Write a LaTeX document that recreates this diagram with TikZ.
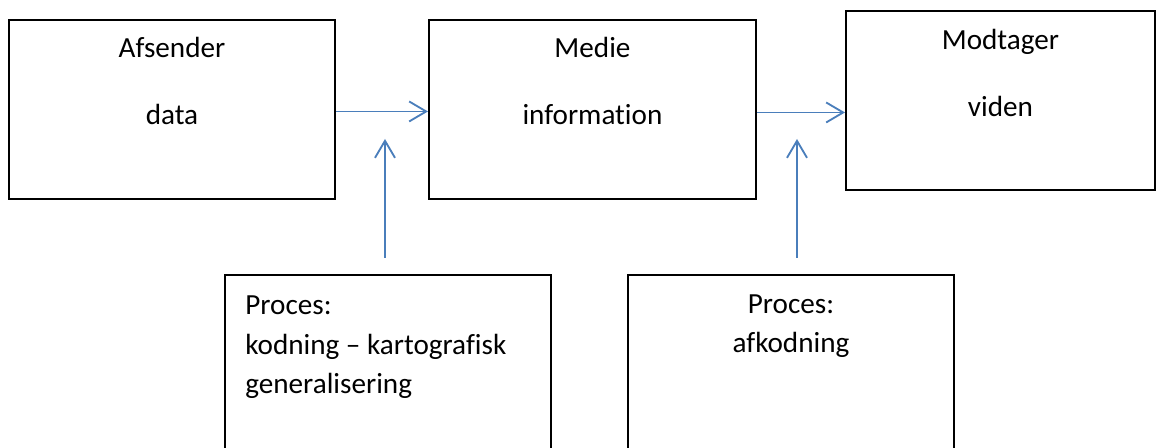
\documentclass[tikz,border=0pt]{standalone}
\usepackage{fontspec}
\setmainfont{Carlito}[Ligatures={TeX,NoCommon}]
\usetikzlibrary{arrows.meta, positioning}

\definecolor{flowblue}{RGB}{74,126,187}

\begin{document}
\begin{tikzpicture}[
font=\fontsize{16.6pt}{22.7pt}\selectfont,
stagebox/.style={
rectangle,
draw,
line width=1.1pt,
anchor=north west,
inner sep=0 pt,
},
boxtext/.style={
anchor=base,
inner sep=0 pt,
},
flow/.style={
draw=flowblue,
line width=1.05pt,
-{Straight Barb[length=0.34cm, width=0.4cm, line width=1.05pt]},
}
]

\useasboundingbox (0,0) rectangle (23.2,-8.96);

% upper boxes
\node [stagebox, minimum width=6.52 cm, minimum height=3.58 cm] at (0.16,-0.38) (afs) {};
\node [stagebox, minimum width=6.54 cm, minimum height=3.58 cm] at (8.56,-0.38) (med) {};
\node [stagebox, minimum width=6.18 cm, minimum height=3.58 cm] at (16.9,-0.2) (mod) {};

% lower boxes (cut off at the bottom)
\node [stagebox, minimum width=6.52 cm, minimum height=4.0 cm] at (4.48,-5.48) (kod) {};
\node [stagebox, minimum width=6.52 cm, minimum height=4.0 cm] at (12.54,-5.48) (afk) {};

% texts in upper boxes
\path[every node/.style={boxtext}]
([yshift=-0.78 cm]afs.north) node (afsname) {Afsender}
([yshift=-2.12 cm]afs.north) node (afsdata) {data}
([yshift=-0.78 cm]med.north) node (medname) {Medie}
([yshift=-2.12 cm]med.north) node (medinfo) {information}
([yshift=-0.8 cm]mod.north) node (modname) {Modtager}
([yshift=-2.14 cm]mod.north) node (modviden) {viden}
;

% texts in lower boxes (base = last line)
\node[anchor=base west, inner sep=0 pt, align=left] at (4.9,-7.88) (kodtext)
{Proces:\\kodning – kartografisk\\generalisering};
\node[anchor=base, inner sep=0 pt, align=center] at ([yshift=-1.58 cm]afk.north) (afktext)
{Proces:\\afkodning};

% arrow ends
\path
([yshift=-0.04 cm]afs.east) coordinate (afsout)
([yshift=-0.06 cm]med.east) coordinate (medout)
(7.7,-5.16) coordinate (kodup)
(7.7,-2.78) coordinate (kodtip)
(15.94,-5.16) coordinate (afkup)
(15.94,-2.78) coordinate (afktip)
;

% flows
\draw[flow] (afsout) -- (afsout -| med.west);
\draw[flow] (medout) -- (medout -| mod.west);
\draw[flow] (kodup) -- (kodtip);
\draw[flow] (afkup) -- (afktip);

\end{tikzpicture}
\end{document}
